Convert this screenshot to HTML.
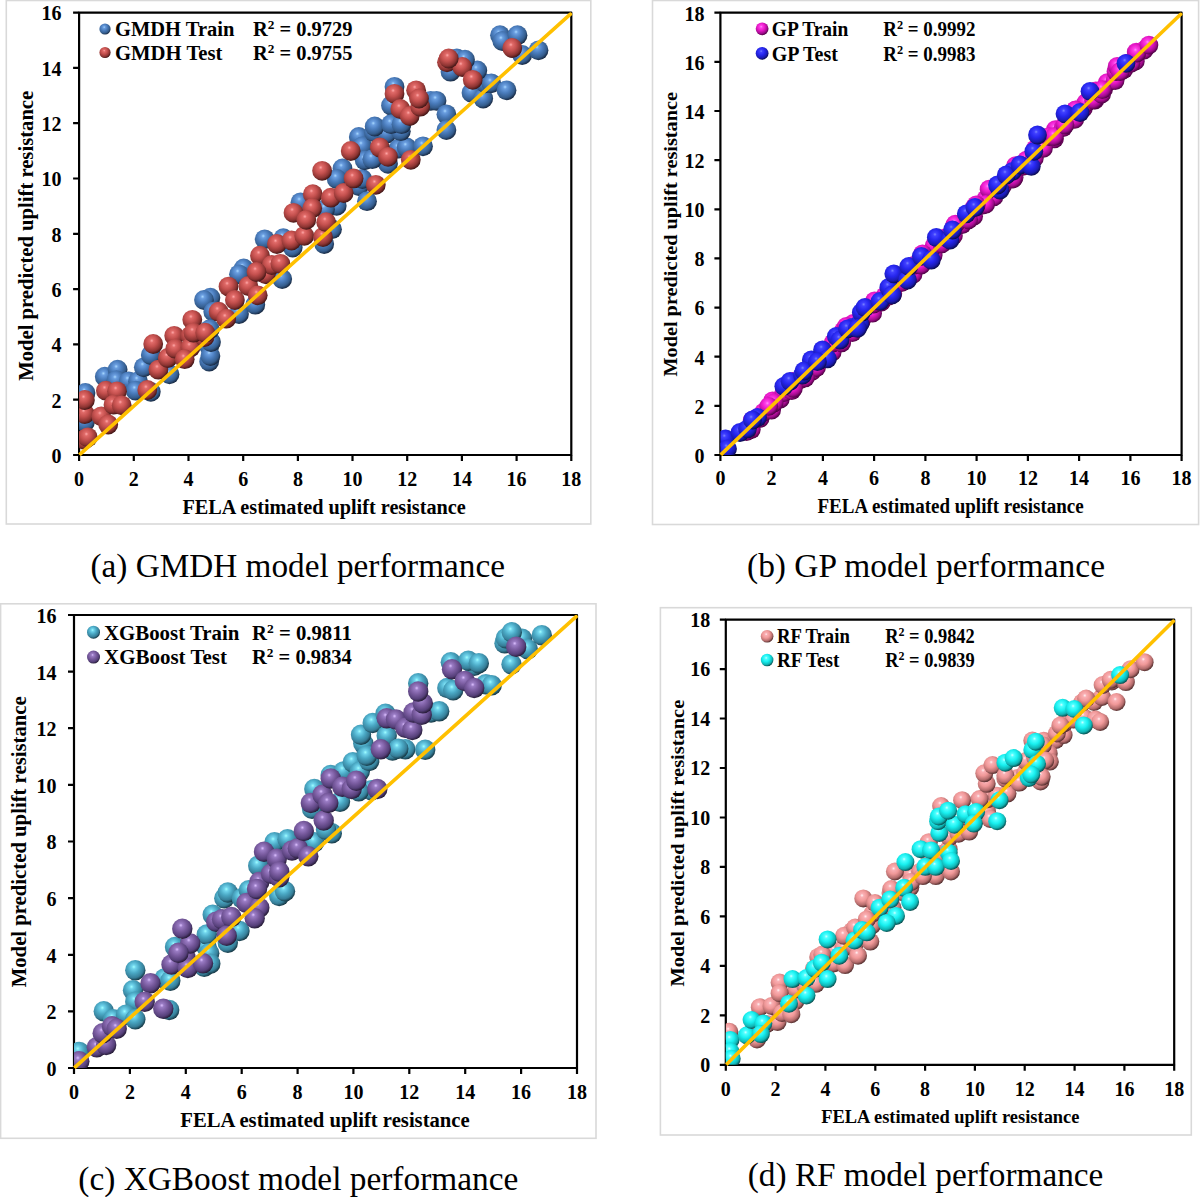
<!DOCTYPE html>
<html><head><meta charset="utf-8"><title>Model performance</title><style>html,body{margin:0;padding:0;background:#fff;overflow:hidden;width:1200px;height:1197px;}svg{display:block;}body{font-family:"Liberation Serif",serif;}</style></head><body>
<svg width="1200" height="1197" viewBox="0 0 1200 1197">
<defs><radialGradient id="g_blue" cx="0.4" cy="0.37" r="0.65" fx="0.43" fy="0.33"><stop offset="0" stop-color="#a8d8ff"/><stop offset="0.15" stop-color="#6a9ee0"/><stop offset="0.45" stop-color="#4a7cbc"/><stop offset="0.78" stop-color="#345c8c"/><stop offset="1" stop-color="#16263e"/></radialGradient><radialGradient id="g_red" cx="0.4" cy="0.37" r="0.65" fx="0.43" fy="0.33"><stop offset="0" stop-color="#ffa8a8"/><stop offset="0.15" stop-color="#e06a68"/><stop offset="0.45" stop-color="#c4504e"/><stop offset="0.78" stop-color="#8c3432"/><stop offset="1" stop-color="#3e1414"/></radialGradient><radialGradient id="g_magenta" cx="0.4" cy="0.37" r="0.65" fx="0.43" fy="0.33"><stop offset="0" stop-color="#ff90ff"/><stop offset="0.15" stop-color="#ff40e8"/><stop offset="0.45" stop-color="#e818c8"/><stop offset="0.78" stop-color="#a00c8c"/><stop offset="1" stop-color="#4a0040"/></radialGradient><radialGradient id="g_gpblue" cx="0.4" cy="0.37" r="0.65" fx="0.43" fy="0.33"><stop offset="0" stop-color="#7a84ff"/><stop offset="0.15" stop-color="#4040ff"/><stop offset="0.45" stop-color="#2626ee"/><stop offset="0.78" stop-color="#1a1ab0"/><stop offset="1" stop-color="#0a0a48"/></radialGradient><radialGradient id="g_teal" cx="0.4" cy="0.37" r="0.65" fx="0.43" fy="0.33"><stop offset="0" stop-color="#a0ffff"/><stop offset="0.15" stop-color="#70d4ec"/><stop offset="0.45" stop-color="#4aa8c4"/><stop offset="0.78" stop-color="#367e98"/><stop offset="1" stop-color="#143440"/></radialGradient><radialGradient id="g_purple" cx="0.4" cy="0.37" r="0.65" fx="0.43" fy="0.33"><stop offset="0" stop-color="#dcc0ff"/><stop offset="0.15" stop-color="#9a7cc4"/><stop offset="0.45" stop-color="#7a5ca0"/><stop offset="0.78" stop-color="#56407a"/><stop offset="1" stop-color="#241a34"/></radialGradient><radialGradient id="g_pink" cx="0.4" cy="0.37" r="0.65" fx="0.43" fy="0.33"><stop offset="0" stop-color="#fff4f6"/><stop offset="0.15" stop-color="#fab0b4"/><stop offset="0.45" stop-color="#f09898"/><stop offset="0.78" stop-color="#b46c6c"/><stop offset="1" stop-color="#4e2a2a"/></radialGradient><radialGradient id="g_cyan" cx="0.4" cy="0.37" r="0.65" fx="0.43" fy="0.33"><stop offset="0" stop-color="#d0ffff"/><stop offset="0.15" stop-color="#50ffff"/><stop offset="0.45" stop-color="#18f0f0"/><stop offset="0.78" stop-color="#10b4b4"/><stop offset="1" stop-color="#064848"/></radialGradient></defs>
<rect width="1200" height="1197" fill="#fff"/>
<rect x="6.3" y="0.5" width="584.5" height="523.5" fill="none" stroke="#d9d9d9" stroke-width="1.6"/>
<clipPath id="clipa"><rect x="79.1" y="12.6" width="492.2" height="442.4"/></clipPath>
<rect x="79.1" y="12.6" width="492.2" height="442.4" fill="none" stroke="#000" stroke-width="2.2" stroke-linejoin="round"/>
<g clip-path="url(#clipa)">
<circle cx="85.5" cy="393" r="9.9" fill="url(#g_blue)"/>
<circle cx="84.9" cy="422.2" r="9.9" fill="url(#g_blue)"/>
<circle cx="104.8" cy="376.7" r="9.9" fill="url(#g_blue)"/>
<circle cx="117.6" cy="369.7" r="9.9" fill="url(#g_blue)"/>
<circle cx="116.4" cy="380.2" r="9.9" fill="url(#g_blue)"/>
<circle cx="128.7" cy="381.3" r="9.9" fill="url(#g_blue)"/>
<circle cx="138" cy="381.3" r="9.9" fill="url(#g_blue)"/>
<circle cx="135.7" cy="390.7" r="9.9" fill="url(#g_blue)"/>
<circle cx="143.8" cy="367.3" r="9.9" fill="url(#g_blue)"/>
<circle cx="150.8" cy="355" r="9.9" fill="url(#g_blue)"/>
<circle cx="150.8" cy="391.8" r="9.9" fill="url(#g_blue)"/>
<circle cx="169.5" cy="374.3" r="9.9" fill="url(#g_blue)"/>
<circle cx="209.2" cy="361.5" r="9.9" fill="url(#g_blue)"/>
<circle cx="209.2" cy="346.3" r="9.9" fill="url(#g_blue)"/>
<circle cx="210.4" cy="297.7" r="9.9" fill="url(#g_blue)"/>
<circle cx="204" cy="300" r="9.9" fill="url(#g_blue)"/>
<circle cx="213.3" cy="311.7" r="9.9" fill="url(#g_blue)"/>
<circle cx="210.4" cy="356" r="9.9" fill="url(#g_blue)"/>
<circle cx="211" cy="342" r="9.9" fill="url(#g_blue)"/>
<circle cx="209.8" cy="329.2" r="9.9" fill="url(#g_blue)"/>
<circle cx="239" cy="314" r="9.9" fill="url(#g_blue)"/>
<circle cx="255.3" cy="304.7" r="9.9" fill="url(#g_blue)"/>
<circle cx="243.7" cy="268.5" r="9.9" fill="url(#g_blue)"/>
<circle cx="239" cy="274.3" r="9.9" fill="url(#g_blue)"/>
<circle cx="264.7" cy="239.3" r="9.9" fill="url(#g_blue)"/>
<circle cx="283.3" cy="238.2" r="9.9" fill="url(#g_blue)"/>
<circle cx="282.2" cy="279" r="9.9" fill="url(#g_blue)"/>
<circle cx="292.7" cy="247.5" r="9.9" fill="url(#g_blue)"/>
<circle cx="324.2" cy="244" r="9.9" fill="url(#g_blue)"/>
<circle cx="300.5" cy="202.3" r="9.9" fill="url(#g_blue)"/>
<circle cx="342.5" cy="168.5" r="9.9" fill="url(#g_blue)"/>
<circle cx="336.7" cy="179" r="9.9" fill="url(#g_blue)"/>
<circle cx="358.8" cy="186" r="9.9" fill="url(#g_blue)"/>
<circle cx="367" cy="201.2" r="9.9" fill="url(#g_blue)"/>
<circle cx="362.3" cy="179" r="9.9" fill="url(#g_blue)"/>
<circle cx="358.8" cy="137" r="9.9" fill="url(#g_blue)"/>
<circle cx="362.3" cy="146.3" r="9.9" fill="url(#g_blue)"/>
<circle cx="364.7" cy="160.3" r="9.9" fill="url(#g_blue)"/>
<circle cx="374" cy="132.3" r="9.9" fill="url(#g_blue)"/>
<circle cx="386.8" cy="133.5" r="9.9" fill="url(#g_blue)"/>
<circle cx="388" cy="163.8" r="9.9" fill="url(#g_blue)"/>
<circle cx="398.5" cy="148.7" r="9.9" fill="url(#g_blue)"/>
<circle cx="406.7" cy="147.5" r="9.9" fill="url(#g_blue)"/>
<circle cx="423" cy="146.3" r="9.9" fill="url(#g_blue)"/>
<circle cx="336.7" cy="205.8" r="9.9" fill="url(#g_blue)"/>
<circle cx="325" cy="209.3" r="9.9" fill="url(#g_blue)"/>
<circle cx="332" cy="229.2" r="9.9" fill="url(#g_blue)"/>
<circle cx="400.8" cy="131.2" r="9.9" fill="url(#g_blue)"/>
<circle cx="394.5" cy="86.8" r="9.9" fill="url(#g_blue)"/>
<circle cx="391" cy="105.5" r="9.9" fill="url(#g_blue)"/>
<circle cx="374.7" cy="126.5" r="9.9" fill="url(#g_blue)"/>
<circle cx="391" cy="124.2" r="9.9" fill="url(#g_blue)"/>
<circle cx="401.5" cy="124.2" r="9.9" fill="url(#g_blue)"/>
<circle cx="430.7" cy="100.8" r="9.9" fill="url(#g_blue)"/>
<circle cx="436.5" cy="100.8" r="9.9" fill="url(#g_blue)"/>
<circle cx="446.4" cy="114.3" r="9.9" fill="url(#g_blue)"/>
<circle cx="446.4" cy="130" r="9.9" fill="url(#g_blue)"/>
<circle cx="372.3" cy="159.2" r="9.9" fill="url(#g_blue)"/>
<circle cx="471.5" cy="92.7" r="9.9" fill="url(#g_blue)"/>
<circle cx="483.2" cy="98.5" r="9.9" fill="url(#g_blue)"/>
<circle cx="485.5" cy="83.3" r="9.9" fill="url(#g_blue)"/>
<circle cx="491.3" cy="83.3" r="9.9" fill="url(#g_blue)"/>
<circle cx="477.3" cy="70.5" r="9.9" fill="url(#g_blue)"/>
<circle cx="506.5" cy="90.3" r="9.9" fill="url(#g_blue)"/>
<circle cx="450.5" cy="71.7" r="9.9" fill="url(#g_blue)"/>
<circle cx="456.8" cy="58.5" r="9.9" fill="url(#g_blue)"/>
<circle cx="465" cy="59.7" r="9.9" fill="url(#g_blue)"/>
<circle cx="500" cy="35.2" r="9.9" fill="url(#g_blue)"/>
<circle cx="502.3" cy="41" r="9.9" fill="url(#g_blue)"/>
<circle cx="517.5" cy="35.2" r="9.9" fill="url(#g_blue)"/>
<circle cx="522.2" cy="55" r="9.9" fill="url(#g_blue)"/>
<circle cx="538.5" cy="50.3" r="9.9" fill="url(#g_blue)"/>
<circle cx="84.3" cy="439.7" r="9.9" fill="url(#g_red)"/>
<circle cx="87.8" cy="437.3" r="9.9" fill="url(#g_red)"/>
<circle cx="84.9" cy="414" r="9.9" fill="url(#g_red)"/>
<circle cx="84.9" cy="400" r="9.9" fill="url(#g_red)"/>
<circle cx="101.3" cy="416.3" r="9.9" fill="url(#g_red)"/>
<circle cx="108.2" cy="424.5" r="9.9" fill="url(#g_red)"/>
<circle cx="105.9" cy="390.7" r="9.9" fill="url(#g_red)"/>
<circle cx="117" cy="391.3" r="9.9" fill="url(#g_red)"/>
<circle cx="113.5" cy="404.7" r="9.9" fill="url(#g_red)"/>
<circle cx="121.7" cy="405.3" r="9.9" fill="url(#g_red)"/>
<circle cx="153.2" cy="344" r="9.9" fill="url(#g_red)"/>
<circle cx="147.3" cy="390" r="9.9" fill="url(#g_red)"/>
<circle cx="158.4" cy="369.7" r="9.9" fill="url(#g_red)"/>
<circle cx="167.8" cy="358" r="9.9" fill="url(#g_red)"/>
<circle cx="174.2" cy="335.8" r="9.9" fill="url(#g_red)"/>
<circle cx="175.3" cy="348.7" r="9.9" fill="url(#g_red)"/>
<circle cx="190.5" cy="335.8" r="9.9" fill="url(#g_red)"/>
<circle cx="190.5" cy="347.5" r="9.9" fill="url(#g_red)"/>
<circle cx="184.7" cy="359.2" r="9.9" fill="url(#g_red)"/>
<circle cx="204.5" cy="337" r="9.9" fill="url(#g_red)"/>
<circle cx="192.3" cy="319.8" r="9.9" fill="url(#g_red)"/>
<circle cx="193.5" cy="332.7" r="9.9" fill="url(#g_red)"/>
<circle cx="205.2" cy="332.7" r="9.9" fill="url(#g_red)"/>
<circle cx="218.6" cy="311.7" r="9.9" fill="url(#g_red)"/>
<circle cx="226.2" cy="318.7" r="9.9" fill="url(#g_red)"/>
<circle cx="228.5" cy="286.6" r="9.9" fill="url(#g_red)"/>
<circle cx="234.9" cy="300" r="9.9" fill="url(#g_red)"/>
<circle cx="248.3" cy="286" r="9.9" fill="url(#g_red)"/>
<circle cx="257.7" cy="295.3" r="9.9" fill="url(#g_red)"/>
<circle cx="260" cy="255.7" r="9.9" fill="url(#g_red)"/>
<circle cx="265.8" cy="274.3" r="9.9" fill="url(#g_red)"/>
<circle cx="271.7" cy="265" r="9.9" fill="url(#g_red)"/>
<circle cx="280.4" cy="263.8" r="9.9" fill="url(#g_red)"/>
<circle cx="276.9" cy="244" r="9.9" fill="url(#g_red)"/>
<circle cx="291.5" cy="240.5" r="9.9" fill="url(#g_red)"/>
<circle cx="304.3" cy="235.8" r="9.9" fill="url(#g_red)"/>
<circle cx="323" cy="237" r="9.9" fill="url(#g_red)"/>
<circle cx="256.5" cy="272" r="9.9" fill="url(#g_red)"/>
<circle cx="293.5" cy="212.8" r="9.9" fill="url(#g_red)"/>
<circle cx="312.8" cy="194.2" r="9.9" fill="url(#g_red)"/>
<circle cx="312.2" cy="208.2" r="9.9" fill="url(#g_red)"/>
<circle cx="306.3" cy="219.8" r="9.9" fill="url(#g_red)"/>
<circle cx="326.2" cy="222.2" r="9.9" fill="url(#g_red)"/>
<circle cx="330.8" cy="197.7" r="9.9" fill="url(#g_red)"/>
<circle cx="343.7" cy="193" r="9.9" fill="url(#g_red)"/>
<circle cx="322.1" cy="170.8" r="9.9" fill="url(#g_red)"/>
<circle cx="353.6" cy="178.4" r="9.9" fill="url(#g_red)"/>
<circle cx="350.7" cy="151" r="9.9" fill="url(#g_red)"/>
<circle cx="375.8" cy="184.8" r="9.9" fill="url(#g_red)"/>
<circle cx="379.8" cy="147.5" r="9.9" fill="url(#g_red)"/>
<circle cx="388" cy="156.8" r="9.9" fill="url(#g_red)"/>
<circle cx="410.8" cy="159.8" r="9.9" fill="url(#g_red)"/>
<circle cx="394.5" cy="93.8" r="9.9" fill="url(#g_red)"/>
<circle cx="416.1" cy="90.3" r="9.9" fill="url(#g_red)"/>
<circle cx="400.3" cy="109" r="9.9" fill="url(#g_red)"/>
<circle cx="409.7" cy="116" r="9.9" fill="url(#g_red)"/>
<circle cx="420.2" cy="106.7" r="9.9" fill="url(#g_red)"/>
<circle cx="419" cy="98.5" r="9.9" fill="url(#g_red)"/>
<circle cx="447" cy="62.3" r="9.9" fill="url(#g_red)"/>
<circle cx="462.2" cy="67" r="9.9" fill="url(#g_red)"/>
<circle cx="472.7" cy="79.8" r="9.9" fill="url(#g_red)"/>
<circle cx="448.7" cy="58.5" r="9.9" fill="url(#g_red)"/>
<circle cx="512.3" cy="48" r="9.9" fill="url(#g_red)"/>
</g>
<line x1="79.9" y1="454.4" x2="570.4" y2="14.2" stroke="#ffc000" stroke-width="3.6" stroke-linecap="round"/>
<path d="M79.1 455v6 M133.8 455v6 M188.5 455v6 M243.2 455v6 M297.9 455v6 M352.5 455v6 M407.2 455v6 M461.9 455v6 M516.6 455v6 M571.3 455v6 M79.1 455h-6 M79.1 399.7h-6 M79.1 344.4h-6 M79.1 289.1h-6 M79.1 233.8h-6 M79.1 178.5h-6 M79.1 123.2h-6 M79.1 67.9h-6 M79.1 12.6h-6" stroke="#000" stroke-width="2.2" fill="none"/>
<g font-family="Liberation Serif" font-weight="bold" font-size="20"><text x="79.1" y="486" text-anchor="middle">0</text><text x="133.8" y="486" text-anchor="middle">2</text><text x="188.5" y="486" text-anchor="middle">4</text><text x="243.2" y="486" text-anchor="middle">6</text><text x="297.9" y="486" text-anchor="middle">8</text><text x="352.5" y="486" text-anchor="middle">10</text><text x="407.2" y="486" text-anchor="middle">12</text><text x="461.9" y="486" text-anchor="middle">14</text><text x="516.6" y="486" text-anchor="middle">16</text><text x="571.3" y="486" text-anchor="middle">18</text><text x="61.5" y="462.8" text-anchor="end">0</text><text x="61.5" y="407.5" text-anchor="end">2</text><text x="61.5" y="352.2" text-anchor="end">4</text><text x="61.5" y="296.9" text-anchor="end">6</text><text x="61.5" y="241.6" text-anchor="end">8</text><text x="61.5" y="186.3" text-anchor="end">10</text><text x="61.5" y="131" text-anchor="end">12</text><text x="61.5" y="75.7" text-anchor="end">14</text><text x="61.5" y="20.4" text-anchor="end">16</text></g>
<text x="182.4" y="514.2" font-family="Liberation Serif" font-weight="bold" font-size="20" textLength="283.4" lengthAdjust="spacingAndGlyphs" text-anchor="start">FELA estimated uplift resistance</text>
<text transform="translate(32.6,380.8) rotate(-90)" x="0" y="0" font-family="Liberation Serif" font-weight="bold" font-size="20" textLength="290" lengthAdjust="spacingAndGlyphs">Model predicted uplift resistance</text>
<circle cx="105" cy="29" r="5.6" fill="url(#g_blue)"/>
<text x="115" y="36" font-family="Liberation Serif" font-weight="bold" font-size="20" textLength="119.4" lengthAdjust="spacingAndGlyphs">GMDH Train</text>
<text x="253" y="36" font-family="Liberation Serif" font-weight="bold" font-size="20" textLength="99.5" lengthAdjust="spacingAndGlyphs">R<tspan font-size="13" dy="-7">2</tspan><tspan dy="7"> = 0.9729</tspan></text>
<circle cx="105" cy="52.5" r="5.6" fill="url(#g_red)"/>
<text x="115" y="60.3" font-family="Liberation Serif" font-weight="bold" font-size="20" textLength="107.5" lengthAdjust="spacingAndGlyphs">GMDH Test</text>
<text x="253" y="60.3" font-family="Liberation Serif" font-weight="bold" font-size="20" textLength="99.5" lengthAdjust="spacingAndGlyphs">R<tspan font-size="13" dy="-7">2</tspan><tspan dy="7"> = 0.9755</tspan></text>
<text x="90.5" y="576.7" font-family="Liberation Serif" font-size="33.2" textLength="414.4" lengthAdjust="spacingAndGlyphs">(a) GMDH model performance</text>
<rect x="652.5" y="0.5" width="546.0999999999999" height="524.0" fill="none" stroke="#d9d9d9" stroke-width="1.6"/>
<clipPath id="clipb"><rect x="720.4" y="12.7" width="461.2" height="442.3"/></clipPath>
<rect x="720.4" y="12.7" width="461.2" height="442.3" fill="none" stroke="#000" stroke-width="2.2" stroke-linejoin="round"/>
<g clip-path="url(#clipb)">
<circle cx="751.3" cy="429.5" r="9.4" fill="url(#g_magenta)"/>
<circle cx="752.2" cy="420.3" r="9.4" fill="url(#g_magenta)"/>
<circle cx="760.1" cy="418.3" r="9.4" fill="url(#g_magenta)"/>
<circle cx="763.7" cy="412.1" r="9.4" fill="url(#g_magenta)"/>
<circle cx="771.6" cy="410.1" r="9.4" fill="url(#g_magenta)"/>
<circle cx="772.5" cy="400.9" r="9.4" fill="url(#g_magenta)"/>
<circle cx="780.3" cy="399" r="9.4" fill="url(#g_magenta)"/>
<circle cx="783.9" cy="392.7" r="9.4" fill="url(#g_magenta)"/>
<circle cx="791.8" cy="390.7" r="9.4" fill="url(#g_magenta)"/>
<circle cx="792.7" cy="381.5" r="9.4" fill="url(#g_magenta)"/>
<circle cx="800.5" cy="379.6" r="9.4" fill="url(#g_magenta)"/>
<circle cx="804.2" cy="373.3" r="9.4" fill="url(#g_magenta)"/>
<circle cx="812" cy="371.3" r="9.4" fill="url(#g_magenta)"/>
<circle cx="812.9" cy="362.2" r="9.4" fill="url(#g_magenta)"/>
<circle cx="820.7" cy="360.2" r="9.4" fill="url(#g_magenta)"/>
<circle cx="824.4" cy="353.9" r="9.4" fill="url(#g_magenta)"/>
<circle cx="832.2" cy="352" r="9.4" fill="url(#g_magenta)"/>
<circle cx="833.1" cy="342.8" r="9.4" fill="url(#g_magenta)"/>
<circle cx="840.9" cy="340.8" r="9.4" fill="url(#g_magenta)"/>
<circle cx="844.6" cy="334.5" r="9.4" fill="url(#g_magenta)"/>
<circle cx="852.4" cy="332.6" r="9.4" fill="url(#g_magenta)"/>
<circle cx="853.3" cy="323.4" r="9.4" fill="url(#g_magenta)"/>
<circle cx="861.1" cy="321.4" r="9.4" fill="url(#g_magenta)"/>
<circle cx="864.8" cy="315.2" r="9.4" fill="url(#g_magenta)"/>
<circle cx="872.6" cy="313.2" r="9.4" fill="url(#g_magenta)"/>
<circle cx="873.5" cy="304" r="9.4" fill="url(#g_magenta)"/>
<circle cx="881.3" cy="302.1" r="9.4" fill="url(#g_magenta)"/>
<circle cx="885" cy="295.8" r="9.4" fill="url(#g_magenta)"/>
<circle cx="892.8" cy="293.8" r="9.4" fill="url(#g_magenta)"/>
<circle cx="893.7" cy="284.6" r="9.4" fill="url(#g_magenta)"/>
<circle cx="901.5" cy="282.7" r="9.4" fill="url(#g_magenta)"/>
<circle cx="905.2" cy="276.4" r="9.4" fill="url(#g_magenta)"/>
<circle cx="913" cy="274.4" r="9.4" fill="url(#g_magenta)"/>
<circle cx="913.9" cy="265.3" r="9.4" fill="url(#g_magenta)"/>
<circle cx="921.7" cy="263.3" r="9.4" fill="url(#g_magenta)"/>
<circle cx="925.4" cy="257" r="9.4" fill="url(#g_magenta)"/>
<circle cx="933.2" cy="255.1" r="9.4" fill="url(#g_magenta)"/>
<circle cx="934.1" cy="245.9" r="9.4" fill="url(#g_magenta)"/>
<circle cx="941.9" cy="243.9" r="9.4" fill="url(#g_magenta)"/>
<circle cx="945.6" cy="237.6" r="9.4" fill="url(#g_magenta)"/>
<circle cx="953.4" cy="235.7" r="9.4" fill="url(#g_magenta)"/>
<circle cx="954.3" cy="226.5" r="9.4" fill="url(#g_magenta)"/>
<circle cx="962.2" cy="224.5" r="9.4" fill="url(#g_magenta)"/>
<circle cx="965.8" cy="218.3" r="9.4" fill="url(#g_magenta)"/>
<circle cx="973.6" cy="216.3" r="9.4" fill="url(#g_magenta)"/>
<circle cx="974.5" cy="207.1" r="9.4" fill="url(#g_magenta)"/>
<circle cx="982.4" cy="205.2" r="9.4" fill="url(#g_magenta)"/>
<circle cx="986" cy="198.9" r="9.4" fill="url(#g_magenta)"/>
<circle cx="993.9" cy="196.9" r="9.4" fill="url(#g_magenta)"/>
<circle cx="994.8" cy="187.7" r="9.4" fill="url(#g_magenta)"/>
<circle cx="1002.6" cy="185.8" r="9.4" fill="url(#g_magenta)"/>
<circle cx="1006.2" cy="179.5" r="9.4" fill="url(#g_magenta)"/>
<circle cx="1014.1" cy="177.5" r="9.4" fill="url(#g_magenta)"/>
<circle cx="1015" cy="168.4" r="9.4" fill="url(#g_magenta)"/>
<circle cx="1022.8" cy="166.4" r="9.4" fill="url(#g_magenta)"/>
<circle cx="1026.4" cy="160.1" r="9.4" fill="url(#g_magenta)"/>
<circle cx="1034.3" cy="158.2" r="9.4" fill="url(#g_magenta)"/>
<circle cx="1035.2" cy="149" r="9.4" fill="url(#g_magenta)"/>
<circle cx="1043" cy="147" r="9.4" fill="url(#g_magenta)"/>
<circle cx="1046.7" cy="140.7" r="9.4" fill="url(#g_magenta)"/>
<circle cx="1054.5" cy="138.8" r="9.4" fill="url(#g_magenta)"/>
<circle cx="1055.4" cy="129.6" r="9.4" fill="url(#g_magenta)"/>
<circle cx="1063.2" cy="127.6" r="9.4" fill="url(#g_magenta)"/>
<circle cx="1066.9" cy="121.3" r="9.4" fill="url(#g_magenta)"/>
<circle cx="1074.7" cy="119.4" r="9.4" fill="url(#g_magenta)"/>
<circle cx="1075.6" cy="110.2" r="9.4" fill="url(#g_magenta)"/>
<circle cx="1083.4" cy="108.3" r="9.4" fill="url(#g_magenta)"/>
<circle cx="1087.1" cy="102" r="9.4" fill="url(#g_magenta)"/>
<circle cx="1094.9" cy="100" r="9.4" fill="url(#g_magenta)"/>
<circle cx="1095.8" cy="90.8" r="9.4" fill="url(#g_magenta)"/>
<circle cx="1103.6" cy="88.9" r="9.4" fill="url(#g_magenta)"/>
<circle cx="1107.3" cy="82.6" r="9.4" fill="url(#g_magenta)"/>
<circle cx="1115.1" cy="80.6" r="9.4" fill="url(#g_magenta)"/>
<circle cx="1116" cy="71.5" r="9.4" fill="url(#g_magenta)"/>
<circle cx="1123.8" cy="69.5" r="9.4" fill="url(#g_magenta)"/>
<circle cx="1127.5" cy="63.2" r="9.4" fill="url(#g_magenta)"/>
<circle cx="1135.3" cy="61.2" r="9.4" fill="url(#g_magenta)"/>
<circle cx="1136.2" cy="52.1" r="9.4" fill="url(#g_magenta)"/>
<circle cx="1144" cy="50.1" r="9.4" fill="url(#g_magenta)"/>
<circle cx="774.1" cy="402.8" r="9.4" fill="url(#g_magenta)"/>
<circle cx="768.7" cy="406.3" r="9.4" fill="url(#g_magenta)"/>
<circle cx="746.6" cy="431.6" r="9.4" fill="url(#g_magenta)"/>
<circle cx="841.7" cy="342.8" r="9.4" fill="url(#g_magenta)"/>
<circle cx="843.2" cy="330.8" r="9.4" fill="url(#g_magenta)"/>
<circle cx="816.5" cy="367.6" r="9.4" fill="url(#g_magenta)"/>
<circle cx="805.4" cy="377.8" r="9.4" fill="url(#g_magenta)"/>
<circle cx="793.4" cy="388.3" r="9.4" fill="url(#g_magenta)"/>
<circle cx="846.3" cy="326.5" r="9.4" fill="url(#g_magenta)"/>
<circle cx="874.5" cy="300.8" r="9.4" fill="url(#g_magenta)"/>
<circle cx="888.7" cy="296.2" r="9.4" fill="url(#g_magenta)"/>
<circle cx="922.5" cy="253.8" r="9.4" fill="url(#g_magenta)"/>
<circle cx="921.2" cy="265" r="9.4" fill="url(#g_magenta)"/>
<circle cx="955.3" cy="224.2" r="9.4" fill="url(#g_magenta)"/>
<circle cx="968.6" cy="219.8" r="9.4" fill="url(#g_magenta)"/>
<circle cx="989.1" cy="189.2" r="9.4" fill="url(#g_magenta)"/>
<circle cx="985.6" cy="204.4" r="9.4" fill="url(#g_magenta)"/>
<circle cx="976.2" cy="205" r="9.4" fill="url(#g_magenta)"/>
<circle cx="1015.6" cy="165.7" r="9.4" fill="url(#g_magenta)"/>
<circle cx="1012.8" cy="179" r="9.4" fill="url(#g_magenta)"/>
<circle cx="1043.4" cy="148.4" r="9.4" fill="url(#g_magenta)"/>
<circle cx="1049.1" cy="136.6" r="9.4" fill="url(#g_magenta)"/>
<circle cx="1054.2" cy="136.6" r="9.4" fill="url(#g_magenta)"/>
<circle cx="1064.9" cy="124.9" r="9.4" fill="url(#g_magenta)"/>
<circle cx="1085.7" cy="103.2" r="9.4" fill="url(#g_magenta)"/>
<circle cx="1093.6" cy="99.9" r="9.4" fill="url(#g_magenta)"/>
<circle cx="1101.6" cy="94" r="9.4" fill="url(#g_magenta)"/>
<circle cx="1102.2" cy="89.7" r="9.4" fill="url(#g_magenta)"/>
<circle cx="1117.2" cy="66.3" r="9.4" fill="url(#g_magenta)"/>
<circle cx="1120.2" cy="71.5" r="9.4" fill="url(#g_magenta)"/>
<circle cx="1130.9" cy="63.3" r="9.4" fill="url(#g_magenta)"/>
<circle cx="1136.8" cy="53" r="9.4" fill="url(#g_magenta)"/>
<circle cx="1148.9" cy="45.1" r="9.4" fill="url(#g_magenta)"/>
<circle cx="1075.6" cy="110" r="9.4" fill="url(#g_magenta)"/>
<circle cx="725.6" cy="438.8" r="9.4" fill="url(#g_gpblue)"/>
<circle cx="727.5" cy="448.8" r="9.4" fill="url(#g_gpblue)"/>
<circle cx="740" cy="432.5" r="9.4" fill="url(#g_gpblue)"/>
<circle cx="747.5" cy="428.8" r="9.4" fill="url(#g_gpblue)"/>
<circle cx="757.5" cy="417.5" r="9.4" fill="url(#g_gpblue)"/>
<circle cx="752.5" cy="420" r="9.4" fill="url(#g_gpblue)"/>
<circle cx="783.8" cy="386.3" r="9.4" fill="url(#g_gpblue)"/>
<circle cx="790" cy="381.3" r="9.4" fill="url(#g_gpblue)"/>
<circle cx="802.5" cy="375" r="9.4" fill="url(#g_gpblue)"/>
<circle cx="811.3" cy="360" r="9.4" fill="url(#g_gpblue)"/>
<circle cx="822.5" cy="350" r="9.4" fill="url(#g_gpblue)"/>
<circle cx="827.5" cy="358.8" r="9.4" fill="url(#g_gpblue)"/>
<circle cx="836.3" cy="336.3" r="9.4" fill="url(#g_gpblue)"/>
<circle cx="840" cy="340" r="9.4" fill="url(#g_gpblue)"/>
<circle cx="852.5" cy="327.5" r="9.4" fill="url(#g_gpblue)"/>
<circle cx="860" cy="323.8" r="9.4" fill="url(#g_gpblue)"/>
<circle cx="847.5" cy="328.8" r="9.4" fill="url(#g_gpblue)"/>
<circle cx="861.3" cy="312.5" r="9.4" fill="url(#g_gpblue)"/>
<circle cx="865" cy="307.5" r="9.4" fill="url(#g_gpblue)"/>
<circle cx="880" cy="301.3" r="9.4" fill="url(#g_gpblue)"/>
<circle cx="888.8" cy="287.5" r="9.4" fill="url(#g_gpblue)"/>
<circle cx="893.8" cy="273.8" r="9.4" fill="url(#g_gpblue)"/>
<circle cx="907.5" cy="280" r="9.4" fill="url(#g_gpblue)"/>
<circle cx="908.8" cy="266.3" r="9.4" fill="url(#g_gpblue)"/>
<circle cx="921.3" cy="256.3" r="9.4" fill="url(#g_gpblue)"/>
<circle cx="931.3" cy="260" r="9.4" fill="url(#g_gpblue)"/>
<circle cx="936.3" cy="237.5" r="9.4" fill="url(#g_gpblue)"/>
<circle cx="950" cy="240" r="9.4" fill="url(#g_gpblue)"/>
<circle cx="952.5" cy="230" r="9.4" fill="url(#g_gpblue)"/>
<circle cx="966.3" cy="213.8" r="9.4" fill="url(#g_gpblue)"/>
<circle cx="975" cy="207.5" r="9.4" fill="url(#g_gpblue)"/>
<circle cx="1000" cy="190" r="9.4" fill="url(#g_gpblue)"/>
<circle cx="997.5" cy="185" r="9.4" fill="url(#g_gpblue)"/>
<circle cx="1012.5" cy="171.3" r="9.4" fill="url(#g_gpblue)"/>
<circle cx="1006.3" cy="175" r="9.4" fill="url(#g_gpblue)"/>
<circle cx="1020" cy="165" r="9.4" fill="url(#g_gpblue)"/>
<circle cx="1031.3" cy="166.3" r="9.4" fill="url(#g_gpblue)"/>
<circle cx="1033.8" cy="151.3" r="9.4" fill="url(#g_gpblue)"/>
<circle cx="1037.5" cy="135" r="9.4" fill="url(#g_gpblue)"/>
<circle cx="1065" cy="113.8" r="9.4" fill="url(#g_gpblue)"/>
<circle cx="1080" cy="112.5" r="9.4" fill="url(#g_gpblue)"/>
<circle cx="1090" cy="91.3" r="9.4" fill="url(#g_gpblue)"/>
<circle cx="1126" cy="63.3" r="9.4" fill="url(#g_gpblue)"/>
<circle cx="804" cy="371" r="9.4" fill="url(#g_gpblue)"/>
<circle cx="817.4" cy="361.7" r="9.4" fill="url(#g_gpblue)"/>
<circle cx="857.5" cy="328.3" r="9.4" fill="url(#g_gpblue)"/>
<circle cx="892.2" cy="294.9" r="9.4" fill="url(#g_gpblue)"/>
</g>
<line x1="721.2" y1="454.4" x2="1180.7" y2="14.3" stroke="#ffc000" stroke-width="3.6" stroke-linecap="round"/>
<path d="M720.4 455v6 M771.6 455v6 M822.9 455v6 M874.1 455v6 M925.4 455v6 M976.6 455v6 M1027.9 455v6 M1079.1 455v6 M1130.4 455v6 M1181.6 455v6 M720.4 455h-6 M720.4 405.9h-6 M720.4 356.7h-6 M720.4 307.6h-6 M720.4 258.4h-6 M720.4 209.3h-6 M720.4 160.1h-6 M720.4 111h-6 M720.4 61.8h-6 M720.4 12.7h-6" stroke="#000" stroke-width="2.2" fill="none"/>
<g font-family="Liberation Serif" font-weight="bold" font-size="20"><text x="720.4" y="485.4" text-anchor="middle">0</text><text x="771.6" y="485.4" text-anchor="middle">2</text><text x="822.9" y="485.4" text-anchor="middle">4</text><text x="874.1" y="485.4" text-anchor="middle">6</text><text x="925.4" y="485.4" text-anchor="middle">8</text><text x="976.6" y="485.4" text-anchor="middle">10</text><text x="1027.9" y="485.4" text-anchor="middle">12</text><text x="1079.1" y="485.4" text-anchor="middle">14</text><text x="1130.4" y="485.4" text-anchor="middle">16</text><text x="1181.6" y="485.4" text-anchor="middle">18</text><text x="704.5" y="462.8" text-anchor="end">0</text><text x="704.5" y="413.7" text-anchor="end">2</text><text x="704.5" y="364.5" text-anchor="end">4</text><text x="704.5" y="315.4" text-anchor="end">6</text><text x="704.5" y="266.2" text-anchor="end">8</text><text x="704.5" y="217.1" text-anchor="end">10</text><text x="704.5" y="167.9" text-anchor="end">12</text><text x="704.5" y="118.8" text-anchor="end">14</text><text x="704.5" y="69.6" text-anchor="end">16</text><text x="704.5" y="20.5" text-anchor="end">18</text></g>
<text x="817.5" y="512.8" font-family="Liberation Serif" font-weight="bold" font-size="20" textLength="266.2" lengthAdjust="spacingAndGlyphs" text-anchor="start">FELA estimated uplift resistance</text>
<text transform="translate(677,376.6) rotate(-90)" x="0" y="0" font-family="Liberation Serif" font-weight="bold" font-size="19" textLength="284.6" lengthAdjust="spacingAndGlyphs">Model predicted uplift resistance</text>
<circle cx="762.1" cy="28.8" r="6.4" fill="url(#g_magenta)"/>
<text x="771.8" y="36.2" font-family="Liberation Serif" font-weight="bold" font-size="20" textLength="76.5" lengthAdjust="spacingAndGlyphs">GP Train</text>
<text x="883.3" y="36.2" font-family="Liberation Serif" font-weight="bold" font-size="20" textLength="92.1" lengthAdjust="spacingAndGlyphs">R<tspan font-size="13" dy="-7">2</tspan><tspan dy="7"> = 0.9992</tspan></text>
<circle cx="762.1" cy="53.3" r="6.4" fill="url(#g_gpblue)"/>
<text x="771.8" y="60.8" font-family="Liberation Serif" font-weight="bold" font-size="20" textLength="66.1" lengthAdjust="spacingAndGlyphs">GP Test</text>
<text x="883.3" y="60.8" font-family="Liberation Serif" font-weight="bold" font-size="20" textLength="92.1" lengthAdjust="spacingAndGlyphs">R<tspan font-size="13" dy="-7">2</tspan><tspan dy="7"> = 0.9983</tspan></text>
<text x="747" y="576.6" font-family="Liberation Serif" font-size="33.2" textLength="358" lengthAdjust="spacingAndGlyphs">(b) GP model performance</text>
<rect x="0.6" y="603.8" width="595.4" height="534.5" fill="none" stroke="#d9d9d9" stroke-width="1.6"/>
<clipPath id="clipc"><rect x="74.0" y="615.0" width="503" height="453"/></clipPath>
<rect x="74.0" y="615.0" width="503" height="453" fill="none" stroke="#000" stroke-width="2.2" stroke-linejoin="round"/>
<g clip-path="url(#clipc)">
<circle cx="79.3" cy="1052" r="10.2" fill="url(#g_teal)"/>
<circle cx="103.8" cy="1011.2" r="10.2" fill="url(#g_teal)"/>
<circle cx="113.2" cy="1019.3" r="10.2" fill="url(#g_teal)"/>
<circle cx="135.3" cy="970.3" r="10.2" fill="url(#g_teal)"/>
<circle cx="133" cy="990.2" r="10.2" fill="url(#g_teal)"/>
<circle cx="135.3" cy="1001.8" r="10.2" fill="url(#g_teal)"/>
<circle cx="126" cy="1014.7" r="10.2" fill="url(#g_teal)"/>
<circle cx="135.3" cy="1019.3" r="10.2" fill="url(#g_teal)"/>
<circle cx="164.5" cy="978.5" r="10.2" fill="url(#g_teal)"/>
<circle cx="170.3" cy="980.8" r="10.2" fill="url(#g_teal)"/>
<circle cx="175" cy="947" r="10.2" fill="url(#g_teal)"/>
<circle cx="206.5" cy="947" r="10.2" fill="url(#g_teal)"/>
<circle cx="204.2" cy="966.8" r="10.2" fill="url(#g_teal)"/>
<circle cx="169.2" cy="1010" r="10.2" fill="url(#g_teal)"/>
<circle cx="206.8" cy="934.5" r="10.2" fill="url(#g_teal)"/>
<circle cx="209.2" cy="953.2" r="10.2" fill="url(#g_teal)"/>
<circle cx="210.3" cy="963.7" r="10.2" fill="url(#g_teal)"/>
<circle cx="212.7" cy="914.7" r="10.2" fill="url(#g_teal)"/>
<circle cx="224.3" cy="898.3" r="10.2" fill="url(#g_teal)"/>
<circle cx="227.8" cy="892.5" r="10.2" fill="url(#g_teal)"/>
<circle cx="241.8" cy="898.3" r="10.2" fill="url(#g_teal)"/>
<circle cx="248.8" cy="890.2" r="10.2" fill="url(#g_teal)"/>
<circle cx="239.5" cy="931" r="10.2" fill="url(#g_teal)"/>
<circle cx="227.8" cy="942.7" r="10.2" fill="url(#g_teal)"/>
<circle cx="279.2" cy="896" r="10.2" fill="url(#g_teal)"/>
<circle cx="285" cy="891.3" r="10.2" fill="url(#g_teal)"/>
<circle cx="258.2" cy="865.7" r="10.2" fill="url(#g_teal)"/>
<circle cx="274.5" cy="842.3" r="10.2" fill="url(#g_teal)"/>
<circle cx="314.2" cy="842.3" r="10.2" fill="url(#g_teal)"/>
<circle cx="287.5" cy="839.2" r="10.2" fill="url(#g_teal)"/>
<circle cx="314.3" cy="789" r="10.2" fill="url(#g_teal)"/>
<circle cx="312" cy="808.8" r="10.2" fill="url(#g_teal)"/>
<circle cx="340" cy="801.8" r="10.2" fill="url(#g_teal)"/>
<circle cx="330.7" cy="775" r="10.2" fill="url(#g_teal)"/>
<circle cx="343.5" cy="771.5" r="10.2" fill="url(#g_teal)"/>
<circle cx="352.8" cy="762.2" r="10.2" fill="url(#g_teal)"/>
<circle cx="359.8" cy="771.5" r="10.2" fill="url(#g_teal)"/>
<circle cx="366.8" cy="751.7" r="10.2" fill="url(#g_teal)"/>
<circle cx="369.2" cy="761" r="10.2" fill="url(#g_teal)"/>
<circle cx="363.3" cy="743.5" r="10.2" fill="url(#g_teal)"/>
<circle cx="371.5" cy="790.2" r="10.2" fill="url(#g_teal)"/>
<circle cx="358.7" cy="791.3" r="10.2" fill="url(#g_teal)"/>
<circle cx="331.8" cy="833.3" r="10.2" fill="url(#g_teal)"/>
<circle cx="326" cy="829.8" r="10.2" fill="url(#g_teal)"/>
<circle cx="405.3" cy="749.3" r="10.2" fill="url(#g_teal)"/>
<circle cx="392.5" cy="750.5" r="10.2" fill="url(#g_teal)"/>
<circle cx="366.8" cy="755.7" r="10.2" fill="url(#g_teal)"/>
<circle cx="361" cy="734.7" r="10.2" fill="url(#g_teal)"/>
<circle cx="372.7" cy="723" r="10.2" fill="url(#g_teal)"/>
<circle cx="385.5" cy="713.7" r="10.2" fill="url(#g_teal)"/>
<circle cx="386.7" cy="735.8" r="10.2" fill="url(#g_teal)"/>
<circle cx="398.3" cy="748.7" r="10.2" fill="url(#g_teal)"/>
<circle cx="425.2" cy="749.8" r="10.2" fill="url(#g_teal)"/>
<circle cx="418.2" cy="683.3" r="10.2" fill="url(#g_teal)"/>
<circle cx="431" cy="712.5" r="10.2" fill="url(#g_teal)"/>
<circle cx="439.2" cy="711.3" r="10.2" fill="url(#g_teal)"/>
<circle cx="447.3" cy="688" r="10.2" fill="url(#g_teal)"/>
<circle cx="453.2" cy="690.3" r="10.2" fill="url(#g_teal)"/>
<circle cx="450.8" cy="662.3" r="10.2" fill="url(#g_teal)"/>
<circle cx="474.2" cy="665.8" r="10.2" fill="url(#g_teal)"/>
<circle cx="468.3" cy="660.8" r="10.2" fill="url(#g_teal)"/>
<circle cx="478.8" cy="663.2" r="10.2" fill="url(#g_teal)"/>
<circle cx="485.8" cy="684.2" r="10.2" fill="url(#g_teal)"/>
<circle cx="491.7" cy="685.3" r="10.2" fill="url(#g_teal)"/>
<circle cx="504.5" cy="643.3" r="10.2" fill="url(#g_teal)"/>
<circle cx="511.5" cy="636.3" r="10.2" fill="url(#g_teal)"/>
<circle cx="522" cy="638.7" r="10.2" fill="url(#g_teal)"/>
<circle cx="527.8" cy="649.2" r="10.2" fill="url(#g_teal)"/>
<circle cx="511.5" cy="664.3" r="10.2" fill="url(#g_teal)"/>
<circle cx="541.8" cy="635.2" r="10.2" fill="url(#g_teal)"/>
<circle cx="505.8" cy="638.3" r="10.2" fill="url(#g_teal)"/>
<circle cx="511.8" cy="632.3" r="10.2" fill="url(#g_teal)"/>
<circle cx="79.3" cy="1061.3" r="10.2" fill="url(#g_purple)"/>
<circle cx="96.8" cy="1047.3" r="10.2" fill="url(#g_purple)"/>
<circle cx="106.2" cy="1045" r="10.2" fill="url(#g_purple)"/>
<circle cx="102.7" cy="1033.3" r="10.2" fill="url(#g_purple)"/>
<circle cx="112" cy="1026.3" r="10.2" fill="url(#g_purple)"/>
<circle cx="116.7" cy="1028.7" r="10.2" fill="url(#g_purple)"/>
<circle cx="150.5" cy="983.2" r="10.2" fill="url(#g_purple)"/>
<circle cx="144.7" cy="1001.8" r="10.2" fill="url(#g_purple)"/>
<circle cx="163.3" cy="1008.8" r="10.2" fill="url(#g_purple)"/>
<circle cx="171.5" cy="964.5" r="10.2" fill="url(#g_purple)"/>
<circle cx="185.5" cy="957.5" r="10.2" fill="url(#g_purple)"/>
<circle cx="187.8" cy="968" r="10.2" fill="url(#g_purple)"/>
<circle cx="190.2" cy="943.5" r="10.2" fill="url(#g_purple)"/>
<circle cx="178.5" cy="952.8" r="10.2" fill="url(#g_purple)"/>
<circle cx="203" cy="963.3" r="10.2" fill="url(#g_purple)"/>
<circle cx="182.3" cy="928.7" r="10.2" fill="url(#g_purple)"/>
<circle cx="216.2" cy="921.7" r="10.2" fill="url(#g_purple)"/>
<circle cx="222" cy="919.3" r="10.2" fill="url(#g_purple)"/>
<circle cx="231.3" cy="917" r="10.2" fill="url(#g_purple)"/>
<circle cx="226.7" cy="935.7" r="10.2" fill="url(#g_purple)"/>
<circle cx="246.5" cy="903" r="10.2" fill="url(#g_purple)"/>
<circle cx="259.3" cy="907.7" r="10.2" fill="url(#g_purple)"/>
<circle cx="254.7" cy="918.2" r="10.2" fill="url(#g_purple)"/>
<circle cx="259.3" cy="882" r="10.2" fill="url(#g_purple)"/>
<circle cx="257" cy="889" r="10.2" fill="url(#g_purple)"/>
<circle cx="271" cy="873.8" r="10.2" fill="url(#g_purple)"/>
<circle cx="279.2" cy="877.3" r="10.2" fill="url(#g_purple)"/>
<circle cx="264" cy="851.7" r="10.2" fill="url(#g_purple)"/>
<circle cx="276.8" cy="858.7" r="10.2" fill="url(#g_purple)"/>
<circle cx="292" cy="850.5" r="10.2" fill="url(#g_purple)"/>
<circle cx="297.8" cy="848.2" r="10.2" fill="url(#g_purple)"/>
<circle cx="308.3" cy="856.3" r="10.2" fill="url(#g_purple)"/>
<circle cx="303.8" cy="831" r="10.2" fill="url(#g_purple)"/>
<circle cx="279.3" cy="871.8" r="10.2" fill="url(#g_purple)"/>
<circle cx="323.7" cy="820.5" r="10.2" fill="url(#g_purple)"/>
<circle cx="310.8" cy="803" r="10.2" fill="url(#g_purple)"/>
<circle cx="322.5" cy="794.8" r="10.2" fill="url(#g_purple)"/>
<circle cx="328.3" cy="803" r="10.2" fill="url(#g_purple)"/>
<circle cx="330.7" cy="778.5" r="10.2" fill="url(#g_purple)"/>
<circle cx="342.3" cy="786.7" r="10.2" fill="url(#g_purple)"/>
<circle cx="351.7" cy="789" r="10.2" fill="url(#g_purple)"/>
<circle cx="356.3" cy="780.8" r="10.2" fill="url(#g_purple)"/>
<circle cx="377.3" cy="789" r="10.2" fill="url(#g_purple)"/>
<circle cx="380.8" cy="749.3" r="10.2" fill="url(#g_purple)"/>
<circle cx="386.7" cy="718.3" r="10.2" fill="url(#g_purple)"/>
<circle cx="396" cy="719.5" r="10.2" fill="url(#g_purple)"/>
<circle cx="405.3" cy="727.7" r="10.2" fill="url(#g_purple)"/>
<circle cx="412.3" cy="730" r="10.2" fill="url(#g_purple)"/>
<circle cx="413.5" cy="712.5" r="10.2" fill="url(#g_purple)"/>
<circle cx="421.7" cy="714.8" r="10.2" fill="url(#g_purple)"/>
<circle cx="422.8" cy="703.2" r="10.2" fill="url(#g_purple)"/>
<circle cx="418.2" cy="691.5" r="10.2" fill="url(#g_purple)"/>
<circle cx="452" cy="669.3" r="10.2" fill="url(#g_purple)"/>
<circle cx="464.8" cy="681" r="10.2" fill="url(#g_purple)"/>
<circle cx="474.2" cy="688" r="10.2" fill="url(#g_purple)"/>
<circle cx="516.2" cy="646.8" r="10.2" fill="url(#g_purple)"/>
</g>
<line x1="74.8" y1="1067.4" x2="576.1" y2="616.6" stroke="#ffc000" stroke-width="3.6" stroke-linecap="round"/>
<path d="M74 1068v6 M129.9 1068v6 M185.8 1068v6 M241.7 1068v6 M297.6 1068v6 M353.4 1068v6 M409.3 1068v6 M465.2 1068v6 M521.1 1068v6 M577 1068v6 M74 1068h-6 M74 1011.4h-6 M74 954.8h-6 M74 898.1h-6 M74 841.5h-6 M74 784.9h-6 M74 728.2h-6 M74 671.6h-6 M74 615h-6" stroke="#000" stroke-width="2.2" fill="none"/>
<g font-family="Liberation Serif" font-weight="bold" font-size="20"><text x="74" y="1099" text-anchor="middle">0</text><text x="129.9" y="1099" text-anchor="middle">2</text><text x="185.8" y="1099" text-anchor="middle">4</text><text x="241.7" y="1099" text-anchor="middle">6</text><text x="297.6" y="1099" text-anchor="middle">8</text><text x="353.4" y="1099" text-anchor="middle">10</text><text x="409.3" y="1099" text-anchor="middle">12</text><text x="465.2" y="1099" text-anchor="middle">14</text><text x="521.1" y="1099" text-anchor="middle">16</text><text x="577" y="1099" text-anchor="middle">18</text><text x="56.5" y="1075.9" text-anchor="end">0</text><text x="56.5" y="1019.3" text-anchor="end">2</text><text x="56.5" y="962.6" text-anchor="end">4</text><text x="56.5" y="906" text-anchor="end">6</text><text x="56.5" y="849.4" text-anchor="end">8</text><text x="56.5" y="792.8" text-anchor="end">10</text><text x="56.5" y="736.1" text-anchor="end">12</text><text x="56.5" y="679.5" text-anchor="end">14</text><text x="56.5" y="622.9" text-anchor="end">16</text></g>
<text x="180.3" y="1127.2" font-family="Liberation Serif" font-weight="bold" font-size="20.3" textLength="289.4" lengthAdjust="spacingAndGlyphs" text-anchor="start">FELA estimated uplift resistance</text>
<text transform="translate(26.1,987.3) rotate(-90)" x="0" y="0" font-family="Liberation Serif" font-weight="bold" font-size="20.5" textLength="291" lengthAdjust="spacingAndGlyphs">Model predicted uplift resistance</text>
<circle cx="93.5" cy="632.2" r="6.5" fill="url(#g_teal)"/>
<text x="104" y="640" font-family="Liberation Serif" font-weight="bold" font-size="20" textLength="135.4" lengthAdjust="spacingAndGlyphs">XGBoost Train</text>
<text x="252" y="640" font-family="Liberation Serif" font-weight="bold" font-size="20" textLength="99.8" lengthAdjust="spacingAndGlyphs">R<tspan font-size="13" dy="-7">2</tspan><tspan dy="7"> = 0.9811</tspan></text>
<circle cx="93.5" cy="657.1" r="6.5" fill="url(#g_purple)"/>
<text x="104" y="663.8" font-family="Liberation Serif" font-weight="bold" font-size="20" textLength="123" lengthAdjust="spacingAndGlyphs">XGBoost Test</text>
<text x="252" y="663.8" font-family="Liberation Serif" font-weight="bold" font-size="20" textLength="99.8" lengthAdjust="spacingAndGlyphs">R<tspan font-size="13" dy="-7">2</tspan><tspan dy="7"> = 0.9834</tspan></text>
<text x="78.3" y="1190.4" font-family="Liberation Serif" font-size="33.2" textLength="440" lengthAdjust="spacingAndGlyphs">(c) XGBoost model performance</text>
<rect x="660.4" y="607.7" width="530.9" height="527.3" fill="none" stroke="#d9d9d9" stroke-width="1.6"/>
<clipPath id="clipd"><rect x="725.8" y="619.6" width="448.4" height="445.2"/></clipPath>
<rect x="725.8" y="619.6" width="448.4" height="445.2" fill="none" stroke="#000" stroke-width="2.2" stroke-linejoin="round"/>
<g clip-path="url(#clipd)">
<circle cx="757" cy="1039.5" r="9" fill="url(#g_pink)"/>
<circle cx="757.8" cy="1027.4" r="9" fill="url(#g_pink)"/>
<circle cx="767" cy="1023.9" r="9" fill="url(#g_pink)"/>
<circle cx="777.6" cy="1021.9" r="9" fill="url(#g_pink)"/>
<circle cx="775.5" cy="1007" r="9" fill="url(#g_pink)"/>
<circle cx="787.5" cy="1006.3" r="9" fill="url(#g_pink)"/>
<circle cx="795.3" cy="1001.4" r="9" fill="url(#g_pink)"/>
<circle cx="796.1" cy="989.4" r="9" fill="url(#g_pink)"/>
<circle cx="805.3" cy="985.9" r="9" fill="url(#g_pink)"/>
<circle cx="815.9" cy="983.8" r="9" fill="url(#g_pink)"/>
<circle cx="813.8" cy="968.9" r="9" fill="url(#g_pink)"/>
<circle cx="825.8" cy="968.3" r="9" fill="url(#g_pink)"/>
<circle cx="833.6" cy="963.4" r="9" fill="url(#g_pink)"/>
<circle cx="834.4" cy="951.3" r="9" fill="url(#g_pink)"/>
<circle cx="843.6" cy="947.8" r="9" fill="url(#g_pink)"/>
<circle cx="854.2" cy="945.8" r="9" fill="url(#g_pink)"/>
<circle cx="852.1" cy="930.9" r="9" fill="url(#g_pink)"/>
<circle cx="864.2" cy="930.2" r="9" fill="url(#g_pink)"/>
<circle cx="872" cy="925.3" r="9" fill="url(#g_pink)"/>
<circle cx="872.7" cy="913.3" r="9" fill="url(#g_pink)"/>
<circle cx="881.9" cy="909.8" r="9" fill="url(#g_pink)"/>
<circle cx="892.5" cy="907.7" r="9" fill="url(#g_pink)"/>
<circle cx="890.5" cy="892.9" r="9" fill="url(#g_pink)"/>
<circle cx="902.5" cy="892.2" r="9" fill="url(#g_pink)"/>
<circle cx="910.3" cy="887.3" r="9" fill="url(#g_pink)"/>
<circle cx="911" cy="875.3" r="9" fill="url(#g_pink)"/>
<circle cx="920.2" cy="871.7" r="9" fill="url(#g_pink)"/>
<circle cx="930.9" cy="869.7" r="9" fill="url(#g_pink)"/>
<circle cx="928.8" cy="854.8" r="9" fill="url(#g_pink)"/>
<circle cx="940.8" cy="854.1" r="9" fill="url(#g_pink)"/>
<circle cx="948.6" cy="849.2" r="9" fill="url(#g_pink)"/>
<circle cx="949.4" cy="837.2" r="9" fill="url(#g_pink)"/>
<circle cx="958.6" cy="833.7" r="9" fill="url(#g_pink)"/>
<circle cx="969.2" cy="831.6" r="9" fill="url(#g_pink)"/>
<circle cx="967.1" cy="816.8" r="9" fill="url(#g_pink)"/>
<circle cx="979.1" cy="816.1" r="9" fill="url(#g_pink)"/>
<circle cx="986.9" cy="811.2" r="9" fill="url(#g_pink)"/>
<circle cx="987.7" cy="799.2" r="9" fill="url(#g_pink)"/>
<circle cx="996.9" cy="795.7" r="9" fill="url(#g_pink)"/>
<circle cx="1007.5" cy="793.6" r="9" fill="url(#g_pink)"/>
<circle cx="1005.4" cy="778.7" r="9" fill="url(#g_pink)"/>
<circle cx="1017.4" cy="778.1" r="9" fill="url(#g_pink)"/>
<circle cx="1025.2" cy="773.1" r="9" fill="url(#g_pink)"/>
<circle cx="1026" cy="761.1" r="9" fill="url(#g_pink)"/>
<circle cx="1035.2" cy="757.6" r="9" fill="url(#g_pink)"/>
<circle cx="1045.8" cy="755.5" r="9" fill="url(#g_pink)"/>
<circle cx="1043.7" cy="740.7" r="9" fill="url(#g_pink)"/>
<circle cx="1055.8" cy="740" r="9" fill="url(#g_pink)"/>
<circle cx="1063.6" cy="735.1" r="9" fill="url(#g_pink)"/>
<circle cx="1064.3" cy="723.1" r="9" fill="url(#g_pink)"/>
<circle cx="1073.5" cy="719.6" r="9" fill="url(#g_pink)"/>
<circle cx="1084.1" cy="717.5" r="9" fill="url(#g_pink)"/>
<circle cx="1082.1" cy="702.6" r="9" fill="url(#g_pink)"/>
<circle cx="1094.1" cy="702" r="9" fill="url(#g_pink)"/>
<circle cx="1101.9" cy="697" r="9" fill="url(#g_pink)"/>
<circle cx="1102.6" cy="685" r="9" fill="url(#g_pink)"/>
<circle cx="1111.8" cy="681.5" r="9" fill="url(#g_pink)"/>
<circle cx="1122.5" cy="679.4" r="9" fill="url(#g_pink)"/>
<circle cx="729.4" cy="1031.8" r="9" fill="url(#g_pink)"/>
<circle cx="759.8" cy="1007.2" r="9" fill="url(#g_pink)"/>
<circle cx="771.5" cy="1006" r="9" fill="url(#g_pink)"/>
<circle cx="779.6" cy="982.6" r="9" fill="url(#g_pink)"/>
<circle cx="779.6" cy="993.2" r="9" fill="url(#g_pink)"/>
<circle cx="782" cy="1013" r="9" fill="url(#g_pink)"/>
<circle cx="791.3" cy="1014.2" r="9" fill="url(#g_pink)"/>
<circle cx="818.2" cy="956.9" r="9" fill="url(#g_pink)"/>
<circle cx="845.1" cy="965.1" r="9" fill="url(#g_pink)"/>
<circle cx="858" cy="955.7" r="9" fill="url(#g_pink)"/>
<circle cx="844" cy="935.8" r="9" fill="url(#g_pink)"/>
<circle cx="822.3" cy="954.5" r="9" fill="url(#g_pink)"/>
<circle cx="855.1" cy="927.6" r="9" fill="url(#g_pink)"/>
<circle cx="870.3" cy="941.6" r="9" fill="url(#g_pink)"/>
<circle cx="863.3" cy="898.4" r="9" fill="url(#g_pink)"/>
<circle cx="875" cy="903" r="9" fill="url(#g_pink)"/>
<circle cx="866.8" cy="919.4" r="9" fill="url(#g_pink)"/>
<circle cx="891.3" cy="889" r="9" fill="url(#g_pink)"/>
<circle cx="894.9" cy="871.5" r="9" fill="url(#g_pink)"/>
<circle cx="911.2" cy="882" r="9" fill="url(#g_pink)"/>
<circle cx="928.8" cy="842.2" r="9" fill="url(#g_pink)"/>
<circle cx="935.8" cy="876.1" r="9" fill="url(#g_pink)"/>
<circle cx="951" cy="871.5" r="9" fill="url(#g_pink)"/>
<circle cx="922.9" cy="876.1" r="9" fill="url(#g_pink)"/>
<circle cx="941.1" cy="806" r="9" fill="url(#g_pink)"/>
<circle cx="962.1" cy="800.2" r="9" fill="url(#g_pink)"/>
<circle cx="979.6" cy="799" r="9" fill="url(#g_pink)"/>
<circle cx="986.7" cy="783.8" r="9" fill="url(#g_pink)"/>
<circle cx="984.3" cy="773.3" r="9" fill="url(#g_pink)"/>
<circle cx="992.5" cy="765.1" r="9" fill="url(#g_pink)"/>
<circle cx="1005.4" cy="775.6" r="9" fill="url(#g_pink)"/>
<circle cx="990.2" cy="818.9" r="9" fill="url(#g_pink)"/>
<circle cx="1040.5" cy="781.5" r="9" fill="url(#g_pink)"/>
<circle cx="1048.7" cy="753.4" r="9" fill="url(#g_pink)"/>
<circle cx="1049.8" cy="761.6" r="9" fill="url(#g_pink)"/>
<circle cx="1032.3" cy="740.5" r="9" fill="url(#g_pink)"/>
<circle cx="1042.8" cy="745.2" r="9" fill="url(#g_pink)"/>
<circle cx="1056.8" cy="733.5" r="9" fill="url(#g_pink)"/>
<circle cx="1019.4" cy="782.6" r="9" fill="url(#g_pink)"/>
<circle cx="1060.4" cy="725.4" r="9" fill="url(#g_pink)"/>
<circle cx="1086.1" cy="698.5" r="9" fill="url(#g_pink)"/>
<circle cx="1095.5" cy="719.5" r="9" fill="url(#g_pink)"/>
<circle cx="1100.2" cy="721.9" r="9" fill="url(#g_pink)"/>
<circle cx="1045.2" cy="760.5" r="9" fill="url(#g_pink)"/>
<circle cx="1041.7" cy="776.8" r="9" fill="url(#g_pink)"/>
<circle cx="1110.7" cy="679.8" r="9" fill="url(#g_pink)"/>
<circle cx="1125.9" cy="682.1" r="9" fill="url(#g_pink)"/>
<circle cx="1130.6" cy="669.2" r="9" fill="url(#g_pink)"/>
<circle cx="1144.6" cy="662.2" r="9" fill="url(#g_pink)"/>
<circle cx="1116.5" cy="702" r="9" fill="url(#g_pink)"/>
<circle cx="730.5" cy="1040" r="9" fill="url(#g_cyan)"/>
<circle cx="730.5" cy="1051.6" r="9" fill="url(#g_cyan)"/>
<circle cx="731.7" cy="1058.7" r="9" fill="url(#g_cyan)"/>
<circle cx="746.9" cy="1035.3" r="9" fill="url(#g_cyan)"/>
<circle cx="751.6" cy="1020" r="9" fill="url(#g_cyan)"/>
<circle cx="763.3" cy="1023.6" r="9" fill="url(#g_cyan)"/>
<circle cx="760.9" cy="1034.1" r="9" fill="url(#g_cyan)"/>
<circle cx="789" cy="1003.7" r="9" fill="url(#g_cyan)"/>
<circle cx="792.5" cy="979.1" r="9" fill="url(#g_cyan)"/>
<circle cx="806.5" cy="978" r="9" fill="url(#g_cyan)"/>
<circle cx="806.5" cy="995.5" r="9" fill="url(#g_cyan)"/>
<circle cx="814.7" cy="968.6" r="9" fill="url(#g_cyan)"/>
<circle cx="821.8" cy="962.7" r="9" fill="url(#g_cyan)"/>
<circle cx="827.6" cy="979.1" r="9" fill="url(#g_cyan)"/>
<circle cx="827.6" cy="939.4" r="9" fill="url(#g_cyan)"/>
<circle cx="839.3" cy="955.7" r="9" fill="url(#g_cyan)"/>
<circle cx="854.5" cy="940.5" r="9" fill="url(#g_cyan)"/>
<circle cx="862.1" cy="930" r="9" fill="url(#g_cyan)"/>
<circle cx="866.8" cy="932.3" r="9" fill="url(#g_cyan)"/>
<circle cx="879.6" cy="907.7" r="9" fill="url(#g_cyan)"/>
<circle cx="890.2" cy="899.5" r="9" fill="url(#g_cyan)"/>
<circle cx="896" cy="915.9" r="9" fill="url(#g_cyan)"/>
<circle cx="886.7" cy="922.9" r="9" fill="url(#g_cyan)"/>
<circle cx="904.2" cy="887.8" r="9" fill="url(#g_cyan)"/>
<circle cx="910.1" cy="901.9" r="9" fill="url(#g_cyan)"/>
<circle cx="905.4" cy="862.1" r="9" fill="url(#g_cyan)"/>
<circle cx="920.6" cy="849.2" r="9" fill="url(#g_cyan)"/>
<circle cx="931.1" cy="850.4" r="9" fill="url(#g_cyan)"/>
<circle cx="925.3" cy="866.8" r="9" fill="url(#g_cyan)"/>
<circle cx="935.8" cy="866.8" r="9" fill="url(#g_cyan)"/>
<circle cx="948.7" cy="852.7" r="9" fill="url(#g_cyan)"/>
<circle cx="951" cy="860.9" r="9" fill="url(#g_cyan)"/>
<circle cx="939.3" cy="832.9" r="9" fill="url(#g_cyan)"/>
<circle cx="938.1" cy="821.2" r="9" fill="url(#g_cyan)"/>
<circle cx="954.5" cy="824.7" r="9" fill="url(#g_cyan)"/>
<circle cx="938.7" cy="816.5" r="9" fill="url(#g_cyan)"/>
<circle cx="948.1" cy="810.7" r="9" fill="url(#g_cyan)"/>
<circle cx="965.6" cy="814.2" r="9" fill="url(#g_cyan)"/>
<circle cx="976.1" cy="811.9" r="9" fill="url(#g_cyan)"/>
<circle cx="973.8" cy="823.6" r="9" fill="url(#g_cyan)"/>
<circle cx="999.5" cy="800.2" r="9" fill="url(#g_cyan)"/>
<circle cx="997.2" cy="821.2" r="9" fill="url(#g_cyan)"/>
<circle cx="1005.4" cy="762.7" r="9" fill="url(#g_cyan)"/>
<circle cx="1013.6" cy="758.1" r="9" fill="url(#g_cyan)"/>
<circle cx="1032.3" cy="749.9" r="9" fill="url(#g_cyan)"/>
<circle cx="1035.8" cy="741.7" r="9" fill="url(#g_cyan)"/>
<circle cx="1037" cy="763.9" r="9" fill="url(#g_cyan)"/>
<circle cx="1028.8" cy="778" r="9" fill="url(#g_cyan)"/>
<circle cx="1031.2" cy="774.5" r="9" fill="url(#g_cyan)"/>
<circle cx="1062.7" cy="707.8" r="9" fill="url(#g_cyan)"/>
<circle cx="1074.4" cy="709" r="9" fill="url(#g_cyan)"/>
<circle cx="1083.8" cy="725.4" r="9" fill="url(#g_cyan)"/>
<circle cx="1120.1" cy="675.1" r="9" fill="url(#g_cyan)"/>
</g>
<line x1="726.6" y1="1064.2" x2="1173.3" y2="621.2" stroke="#ffc000" stroke-width="3.6" stroke-linecap="round"/>
<path d="M725.8 1064.8v6 M775.6 1064.8v6 M825.4 1064.8v6 M875.3 1064.8v6 M925.1 1064.8v6 M974.9 1064.8v6 M1024.7 1064.8v6 M1074.6 1064.8v6 M1124.4 1064.8v6 M1174.2 1064.8v6 M725.8 1064.8h-6 M725.8 1015.3h-6 M725.8 965.9h-6 M725.8 916.4h-6 M725.8 866.9h-6 M725.8 817.5h-6 M725.8 768h-6 M725.8 718.5h-6 M725.8 669.1h-6 M725.8 619.6h-6" stroke="#000" stroke-width="2.2" fill="none"/>
<g font-family="Liberation Serif" font-weight="bold" font-size="20"><text x="725.8" y="1095.5" text-anchor="middle">0</text><text x="775.6" y="1095.5" text-anchor="middle">2</text><text x="825.4" y="1095.5" text-anchor="middle">4</text><text x="875.3" y="1095.5" text-anchor="middle">6</text><text x="925.1" y="1095.5" text-anchor="middle">8</text><text x="974.9" y="1095.5" text-anchor="middle">10</text><text x="1024.7" y="1095.5" text-anchor="middle">12</text><text x="1074.6" y="1095.5" text-anchor="middle">14</text><text x="1124.4" y="1095.5" text-anchor="middle">16</text><text x="1174.2" y="1095.5" text-anchor="middle">18</text><text x="710.2" y="1072.1" text-anchor="end">0</text><text x="710.2" y="1022.6" text-anchor="end">2</text><text x="710.2" y="973.2" text-anchor="end">4</text><text x="710.2" y="923.7" text-anchor="end">6</text><text x="710.2" y="874.2" text-anchor="end">8</text><text x="710.2" y="824.8" text-anchor="end">10</text><text x="710.2" y="775.3" text-anchor="end">12</text><text x="710.2" y="725.8" text-anchor="end">14</text><text x="710.2" y="676.4" text-anchor="end">16</text><text x="710.2" y="626.9" text-anchor="end">18</text></g>
<text x="821.2" y="1123" font-family="Liberation Serif" font-weight="bold" font-size="18.8" textLength="258.3" lengthAdjust="spacingAndGlyphs" text-anchor="start">FELA estimated uplift resistance</text>
<text transform="translate(683.8,986.6) rotate(-90)" x="0" y="0" font-family="Liberation Serif" font-weight="bold" font-size="18.6" textLength="286.8" lengthAdjust="spacingAndGlyphs">Model predicted uplift resistance</text>
<circle cx="767.1" cy="636.3" r="6.3" fill="url(#g_pink)"/>
<text x="776.9" y="642.7" font-family="Liberation Serif" font-weight="bold" font-size="20" textLength="72.9" lengthAdjust="spacingAndGlyphs">RF Train</text>
<text x="885.2" y="642.7" font-family="Liberation Serif" font-weight="bold" font-size="20" textLength="89.6" lengthAdjust="spacingAndGlyphs">R<tspan font-size="13" dy="-7">2</tspan><tspan dy="7"> = 0.9842</tspan></text>
<circle cx="767.1" cy="660" r="6.3" fill="url(#g_cyan)"/>
<text x="776.9" y="667.1" font-family="Liberation Serif" font-weight="bold" font-size="20" textLength="62.5" lengthAdjust="spacingAndGlyphs">RF Test</text>
<text x="885.2" y="667.1" font-family="Liberation Serif" font-weight="bold" font-size="20" textLength="89.6" lengthAdjust="spacingAndGlyphs">R<tspan font-size="13" dy="-7">2</tspan><tspan dy="7"> = 0.9839</tspan></text>
<text x="747.8" y="1185.7" font-family="Liberation Serif" font-size="33.2" textLength="355.5" lengthAdjust="spacingAndGlyphs">(d) RF model performance</text>
</svg>
</body></html>
